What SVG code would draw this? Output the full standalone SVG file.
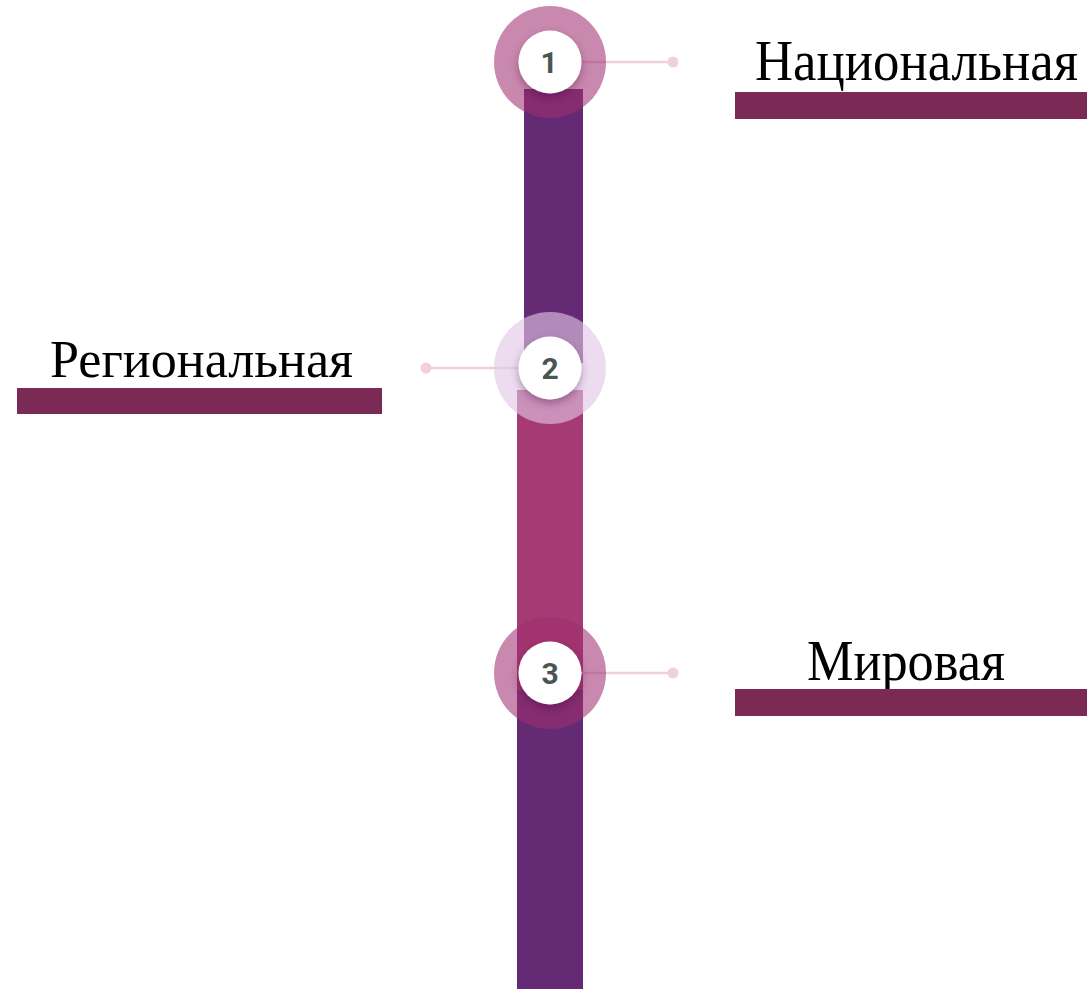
<svg xmlns="http://www.w3.org/2000/svg" width="1087" height="989" viewBox="0 0 1087 989">
<defs>
<filter id="sh" x="-50%" y="-50%" width="200%" height="200%">
<feDropShadow dx="0" dy="4" stdDeviation="4" flood-color="#3a1030" flood-opacity="0.35"/>
</filter>
</defs>
<style>
.lbl{font-family:"Liberation Serif","Times New Roman",serif;fill:#000}
.num{font-family:Roboto,"Liberation Sans",sans-serif;font-weight:700;font-size:30px;fill:#4a5553;text-anchor:middle}
.ringA{fill:#a02e6f;fill-opacity:0.57}
.ringB{fill:#e2c6e6;fill-opacity:0.62}
.inner{fill:#fff;filter:url(#sh)}
.conn{stroke:#f0cfe0;stroke-width:2.5;fill:none}
.dot{fill:#f0cfe0}
.ubar{fill:#7b2955}
</style>
<rect width="1087" height="989" fill="#fff"/>
<g id="spine">
<rect x="524" y="89" width="59" height="274" fill="#642b74"/>
<rect x="517" y="390" width="66" height="300" fill="#a63a74"/>
<rect x="517" y="690" width="66" height="299" fill="#642b74"/>
</g>
<g id="connectors">
<line class="conn" x1="581" y1="62" x2="673" y2="62"/>
<circle class="dot" cx="673" cy="62" r="5.5"/>
<line class="conn" x1="426" y1="368" x2="519" y2="368"/>
<circle class="dot" cx="426" cy="368" r="5.5"/>
<line class="conn" x1="581" y1="673" x2="673" y2="673"/>
<circle class="dot" cx="673" cy="673" r="5.5"/>
</g>
<g id="node1">
<circle class="ringA" cx="550" cy="62" r="56"/>
<circle class="inner" cx="550" cy="62" r="31.5"/>
<text class="num" x="549" y="73">1</text>
</g>
<g id="node2">
<circle class="ringB" cx="550" cy="368" r="56"/>
<circle class="inner" cx="550" cy="368" r="31.5"/>
<text class="num" x="550" y="379">2</text>
</g>
<g id="node3">
<circle class="ringA" cx="550" cy="673" r="56"/>
<circle class="inner" cx="550" cy="673" r="31.5"/>
<text class="num" x="550" y="684">3</text>
</g>
<g id="label1">
<text class="lbl" x="755" y="80" font-size="56" textLength="323" lengthAdjust="spacingAndGlyphs">Национальная</text>
<rect class="ubar" x="735" y="92" width="352" height="27"/>
</g>
<g id="label2">
<text class="lbl" x="50" y="377" font-size="52" textLength="303" lengthAdjust="spacingAndGlyphs">Региональная</text>
<rect class="ubar" x="17" y="388" width="365" height="26"/>
</g>
<g id="label3">
<text class="lbl" x="807" y="680" font-size="56" textLength="198" lengthAdjust="spacingAndGlyphs">Мировая</text>
<rect class="ubar" x="735" y="689" width="352" height="27"/>
</g>
</svg>
